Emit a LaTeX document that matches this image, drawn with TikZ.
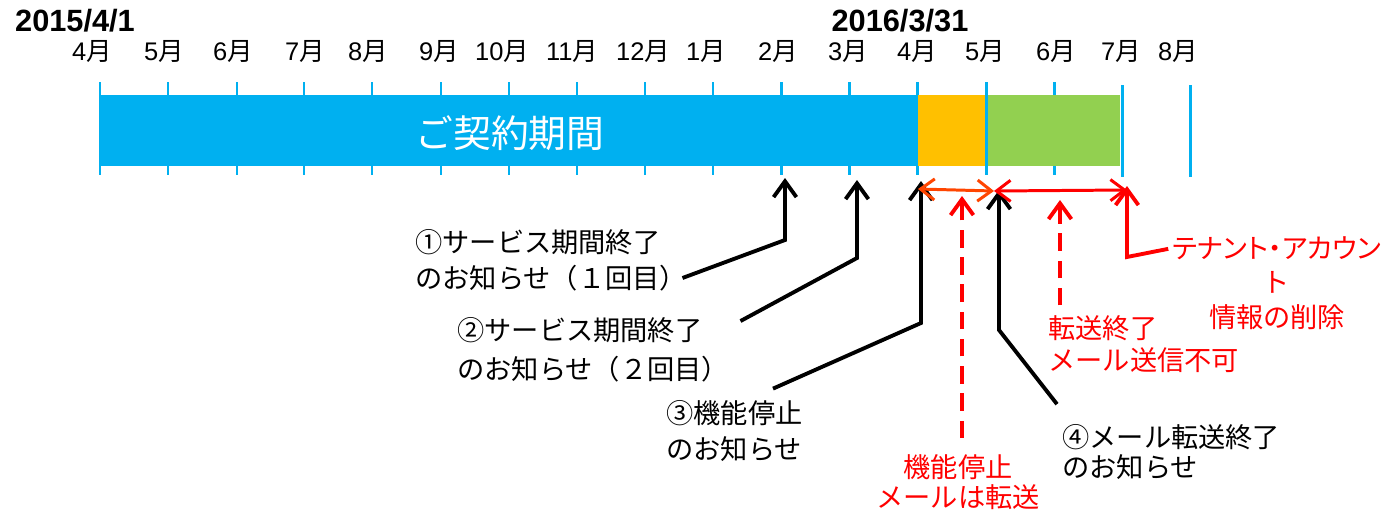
\documentclass[tikz,border=0pt]{standalone}
\usepackage{fontspec}
\setmainfont{Noto Sans CJK JP}
\newfontfamily\arial{Liberation Sans}
\newfontfamily\jpprop{Noto Sans CJK JP}[RawFeature=+palt]
\usepackage{tikz}
\usetikzlibrary{arrows.meta,calc}
\definecolor{keiyaku}{HTML}{00B0F0}
\definecolor{teishi}{HTML}{FFC000}
\definecolor{tenso}{HTML}{92D050}
\definecolor{orred}{HTML}{FF4500}

\begin{document}
\begin{tikzpicture}[x=0.02cm,y=-0.02cm]
\tikzstyle{month}=[font=\fontsize{14.5}{16}\selectfont, inner sep=0pt]
\tikzstyle{date}=[font=\arial\bfseries\fontsize{17.5}{20}\selectfont, inner sep=0pt]
\tikzstyle{tick}=[draw=keiyaku, line width=1.7pt]
\tikzstyle{note}=[font=\fontsize{15.5}{20.5}\selectfont, align=left, inner sep=0pt]
\tikzstyle{rednote}=[note, text=red]
\tikzstyle{pointer}=[-{Straight Barb[length=9pt,width=13pt]}, line width=2.2pt]
\tikzstyle{span}=[{Straight Barb[length=8pt,width=12pt]}-{Straight Barb[length=8pt,width=12pt]}, line width=1.7pt]
\tikzstyle{dashy}=[dash pattern=on 10pt off 5.5pt]

\useasboundingbox (0,0) rectangle (1387,514);

% bar and ticks
\foreach \x in {100,168,237,304,372,441,509,577,645,713,781,849,917,986,1054}
  \draw[tick] (\x,82) -- (\x,175);
\draw[tick] (1122,85) -- (1122,177);
\draw[tick] (1190,85) -- (1190,177);
\fill[keiyaku] (100,95) rectangle (917,166);
\fill[teishi] (918,95) rectangle (985,166);
\fill[tenso] (988,95) rectangle (1120,166);
\node[text=white, font=\fontsize{21.5}{24}\selectfont] (KEIYAKU) at (510,133) {ご契約期間};

% months
\foreach \x/\m [count=\i] in {92/4,164/5,233/6,305/7,368/8,439/9,502/10,572/11,643/12,706/1,778/2,848/3,917/4,985/5,1056/6,1121/7,1178/8}
  \node[month] (M\i) at (\x,52) {{\arial\m}月};
\node[date] (START) at (75,21) {2015/4/1};
\node[date] (END) at (900,21) {2016/3/31};

% arrow tips
\coordinate (FEB) at (785,178);
\coordinate (MAR) at (857,180);
\coordinate (APR) at (921,181);
\coordinate (MAY) at (999,190);
\coordinate (S1) at (918,189);
\coordinate (S2) at (994,191);
\coordinate (S3) at (1127,190);

% notices
\node[note, anchor=west] (NOTE1) at (415,260) {①サービス期間終了\\のお知らせ（１回目）};
\node[note, anchor=west, font=\fontsize{15.5}{22.5}\selectfont] (NOTE2) at (457,350) {②サービス期間終了\\のお知らせ（２回目）};
\node[note, anchor=west, font=\fontsize{15.5}{21}\selectfont] (NOTE3) at (666,431) {③機能停止\\のお知らせ};
\node[note, anchor=west, font=\fontsize{15.5}{17}\selectfont] (NOTE4) at (1062,452) {④メール転送終了\\のお知らせ};

\node[rednote, align=center, font=\fontsize{15.5}{17}\selectfont] (STOP) at (958,482) {機能停止\\メールは転送};
\node[rednote, anchor=west, font=\fontsize{15.5}{18}\selectfont] (TENSO) at (1048,344) {転送終了\\メール送信不可};
\node[rednote, align=center, font=\jpprop\fontsize{15.5}{19.8}\selectfont] (DEL) at (1277,283) {テナント・アカウン\\ト\\情報の削除};

\draw[pointer] ($(NOTE1.east)+(-5,18)$) -- (785,240) -- (FEB);
\draw[pointer] ($(NOTE2.north east)+(11,4)$) -- (857,258) -- (MAR);
\draw[pointer] ($(NOTE3.north west)+(107,-11)$) -- (921,323) -- (APR);
\draw[pointer] ($(NOTE4.north west)+(-5,-20)$) -- (999,330) -- (MAY);

\draw[span, draw=orred] (S1) -- (S2);
\draw[span, draw=red] (S2) -- (S3);
\draw[pointer, red, dashy] ($(STOP.north)+(4,-16)$) -- (962,196);
\draw[pointer, red, dashy] ($(TENSO.north west)+(12,-10)$) -- (1060,200);
\draw[pointer, red] ($(DEL.north west)+(-4,13)$) -- (1127,257) -- (1127,186);
\end{tikzpicture}
\end{document}
